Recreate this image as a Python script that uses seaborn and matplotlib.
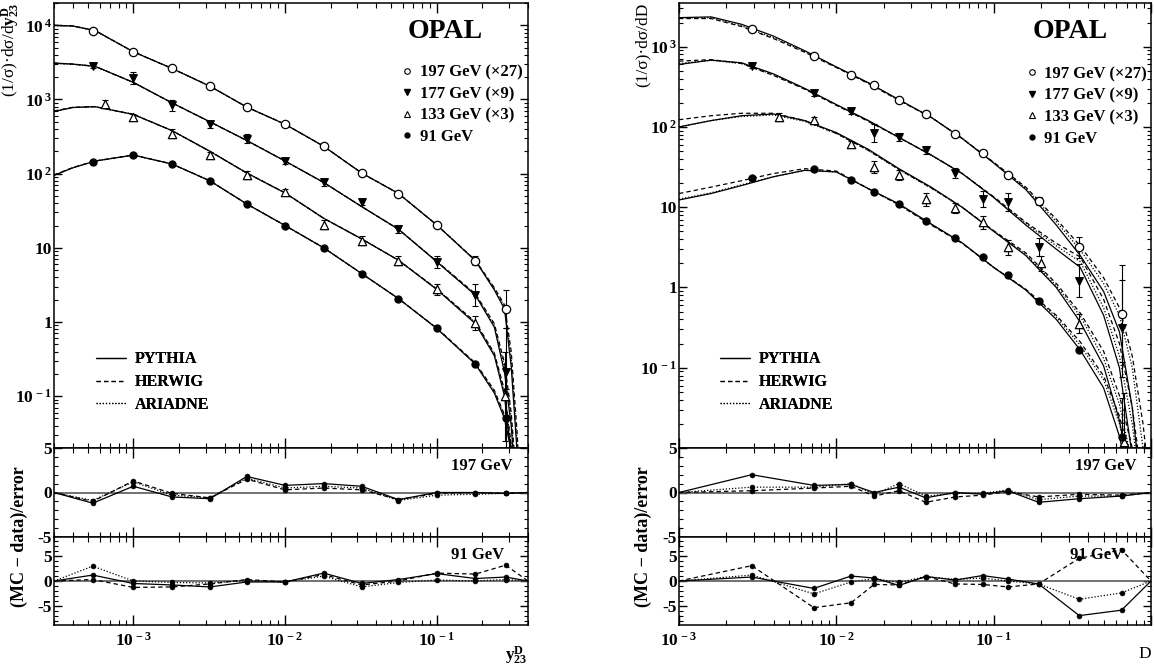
import numpy as np
import matplotlib
matplotlib.use("Agg")
import matplotlib.pyplot as plt
from matplotlib.ticker import FixedLocator, LogLocator, MultipleLocator, NullFormatter, FuncFormatter
from matplotlib.lines import Line2D
import seaborn as sns

# ---------------- data: left panel (y23^D) ----------------
LX = [5.4e-4, 1.0e-3, 1.8e-3, 3.2e-3, 5.6e-3, 1.0e-2, 1.8e-2, 3.2e-2, 5.6e-2, 0.10, 0.18, 0.285]
LX133 = [6.5e-4, 1.0e-3, 1.8e-3, 3.2e-3, 5.6e-3, 1.0e-2, 1.8e-2, 3.2e-2, 5.6e-2, 0.10, 0.18, 0.28]
D197L = [8500, 4400, 2620, 1510, 789, 464, 234, 102, 54, 20.5, 6.7, 1.5]
D177L = [2800, 1950, 830, 464, 296, 148, 76, 41, 18, 6.5, 2.3, 0.21]
D133L = [867, 580, 343, 179, 96, 57, 20.5, 12.5, 6.7, 2.75, 0.96, 0.1]
D91L = [145, 179, 135, 80, 39, 20, 10, 4.5, 2.07, 0.82, 0.27, 0.05]
E197L = [0.03, 0.04, 0.03, 0.03, 0.03, 0.03, 0.04, 0.04, 0.06, 0.08, 0.15, 0.8]
E177L = [0.06, 0.2, 0.18, 0.12, 0.15, 0.1, 0.1, 0.1, 0.12, 0.2, 0.4, 3.0]
E133L = [0.12, 0.1, 0.15, 0.1, 0.12, 0.08, 0.15, 0.15, 0.15, 0.2, 0.25, 3.0]
E91L = [0.02, 0.02, 0.02, 0.02, 0.02, 0.02, 0.02, 0.03, 0.03, 0.04, 0.06, 1.5]

LG = [3.0e-4, 4.0e-4, 5.6e-4, 1.0e-3, 1.8e-3, 3.2e-3, 5.6e-3, 1.0e-2, 1.8e-2, 3.2e-2, 5.6e-2,
      0.10, 0.18, 0.24, 0.28, 0.31, 0.34, 0.36]
L_PY_197 = [10000, 9800, 8500, 4400, 2620, 1510, 790, 464, 234, 102, 54, 20.4, 6.7, 2.7, 1.5, 0.25, 0.016, 0.001]
L_HW_197 = [10000, 9800, 8500, 4400, 2620, 1510, 790, 464, 234, 102, 54, 20.4, 6.8, 2.9, 1.7, 0.4, 0.03, 0.002]
L_AR_197 = [9900, 9750, 8450, 4400, 2620, 1510, 790, 464, 234, 102, 54, 20.4, 6.75, 2.8, 1.6, 0.32, 0.022, 0.0015]
L_PY_177 = [3100, 3000, 2800, 1700, 900, 500, 280, 148, 76, 36, 17.8, 6.5, 2.3, 0.85, 0.21, 0.04, 0.003, 0.0005]
L_HW_177 = [3100, 3000, 2800, 1700, 900, 500, 280, 148, 76, 36, 17.8, 6.6, 2.4, 0.95, 0.28, 0.06, 0.005, 0.0008]
L_AR_177 = [3050, 2980, 2790, 1700, 900, 500, 280, 148, 76, 36, 17.8, 6.55, 2.35, 0.9, 0.25, 0.05, 0.004, 0.0006]
L_PY_133 = [690, 780, 800, 630, 380, 200, 102, 55, 25, 13.2, 6.8, 2.75, 0.95, 0.35, 0.1, 0.016, 0.0016, 0.0003]
L_HW_133 = [700, 785, 800, 630, 380, 200, 102, 55, 25, 13.2, 6.8, 2.8, 1.0, 0.38, 0.12, 0.022, 0.0025, 0.0004]
L_AR_133 = [690, 780, 800, 630, 380, 200, 102, 55, 25, 13.2, 6.8, 2.78, 0.98, 0.37, 0.11, 0.02, 0.002, 0.0003]
L_PY_91 = [95, 120, 148, 178, 135, 80, 39, 20, 10, 4.5, 2.07, 0.82, 0.27, 0.11, 0.05, 0.018, 0.005, 0.001]
L_HW_91 = [96, 121, 148, 178, 135, 80, 39, 20, 10, 4.5, 2.07, 0.83, 0.28, 0.12, 0.056, 0.022, 0.006, 0.0012]
L_AR_91 = [95, 120, 148, 178, 135, 80, 39, 20, 10, 4.5, 2.07, 0.82, 0.275, 0.115, 0.053, 0.02, 0.0055, 0.0011]

RLX = [3.0e-4, 5.4e-4, 1.0e-3, 1.8e-3, 3.2e-3, 5.6e-3, 1.0e-2, 1.8e-2, 3.2e-2, 5.6e-2, 0.10, 0.18, 0.285, 0.40]
R197L_PY = [0, -1.2, 0.7, -0.5, -0.7, 1.8, 0.8, 1.0, 0.7, -0.8, 0.0, 0.0, -0.1, 0]
R197L_HW = [0, -1.0, 1.3, -0.1, -0.6, 1.5, 0.3, 0.5, 0.3, -0.8, -0.1, 0.0, -0.1, 0]
R197L_AR = [0, -0.9, 1.2, -0.3, -0.6, 1.6, 0.5, 0.7, 0.5, -0.9, -0.3, -0.2, -0.1, 0]
R91L_PY = [0, 1.2, -0.5, -0.8, -1.2, -0.2, -0.2, 1.6, -0.5, 0.3, 1.5, 0.5, 0.8, 0]
R91L_HW = [0, 0.3, -1.3, -1.2, -0.6, 0.3, -0.2, 1.3, -0.8, 0.0, 1.6, 1.4, 3.2, 0]
R91L_AR = [0, 3.0, 0.0, -0.3, -0.4, 0.1, -0.2, 1.0, -1.2, -0.3, 0.2, 0.0, 0.3, 0]

# ---------------- data: right panel (D) ----------------
RX = [2.9e-3, 7.2e-3, 0.0124, 0.0174, 0.025, 0.037, 0.057, 0.085, 0.123, 0.193, 0.35, 0.65]
RX133 = [4.3e-3, 7.2e-3, 0.0124, 0.0174, 0.025, 0.037, 0.057, 0.085, 0.123, 0.2, 0.35, 0.67]
D197R = [1680, 770, 447, 335, 216, 146, 82, 47, 25, 11.9, 3.16, 0.47]
D177R = [580, 266, 158, 84, 75, 52, 26.6, 12.6, 11.5, 3.2, 1.22, 0.31]
D133R = [133, 122, 61, 31.6, 25, 12.6, 9.7, 6.5, 3.16, 2.0, 0.355, 0.012]
D91R = [23, 30, 21.7, 15.4, 10.9, 6.7, 4.1, 2.37, 1.41, 0.67, 0.168, 0.0138]
E197R = [0.04, 0.04, 0.04, 0.05, 0.05, 0.05, 0.06, 0.07, 0.08, 0.12, 0.35, 3.0]
E177R = [0.06, 0.08, 0.1, 0.3, 0.12, 0.12, 0.15, 0.25, 0.3, 0.3, 0.6, 3.0]
E133R = [0.12, 0.1, 0.1, 0.2, 0.15, 0.2, 0.15, 0.2, 0.25, 0.25, 0.3, 3.0]
E91R = [0.02, 0.02, 0.02, 0.02, 0.02, 0.02, 0.02, 0.03, 0.03, 0.04, 0.06, 2.0]

RG = [0.001, 0.0016, 0.0025, 0.004, 0.0063, 0.01, 0.016, 0.025, 0.04, 0.063, 0.1, 0.16, 0.25,
      0.355, 0.5, 0.63, 0.76, 0.89, 1.0]
R_PY_197 = [2300, 2350, 1900, 1350, 890, 560, 355, 219, 132, 72, 35.5, 16.6, 6.0, 2.5, 0.89, 0.28, 0.032, 0.0016, 0.0003]
R_HW_197 = [2240, 2240, 1780, 1260, 850, 550, 347, 214, 132, 72, 36.3, 17.8, 7.1, 3.3, 1.32, 0.56, 0.14, 0.02, 0.0025]
R_AR_197 = [2290, 2290, 1820, 1290, 870, 556, 351, 216, 132, 72, 35.9, 17.2, 6.6, 2.95, 1.12, 0.45, 0.1, 0.01, 0.001]
R_PY_177 = [600, 680, 630, 457, 302, 190, 120, 74, 44.7, 26.3, 13.2, 6.0, 3.0, 1.78, 0.45, 0.1, 0.008, 0.0006, 0.0001]
R_HW_177 = [660, 690, 617, 437, 295, 186, 117, 74, 44.7, 26.3, 13.5, 6.5, 3.55, 2.4, 0.71, 0.2, 0.032, 0.0032, 0.0003]
R_AR_177 = [617, 676, 617, 447, 299, 188, 119, 74, 44.7, 26.3, 13.3, 6.3, 3.3, 2.1, 0.56, 0.14, 0.02, 0.0016, 0.00016]
R_PY_133 = [100, 120, 138, 145, 120, 85, 52.5, 30.2, 17.8, 10, 5.0, 2.5, 1.0, 0.37, 0.105, 0.022, 0.0032, 0.0003, 0.00003]
R_HW_133 = [123, 138, 148, 148, 120, 83, 51, 29.5, 17.4, 10, 5.1, 2.7, 1.12, 0.48, 0.16, 0.045, 0.01, 0.0016, 0.00025]
R_AR_133 = [100, 120, 135, 141, 117, 83, 51, 29.5, 17.4, 10, 5.07, 2.57, 1.05, 0.44, 0.13, 0.035, 0.0063, 0.0008, 0.0001]
R_PY_91 = [12.3, 14.8, 18.6, 24, 28.8, 27.5, 17, 11, 6.2, 3.6, 1.78, 0.93, 0.4, 0.166, 0.056, 0.014, 0.0025, 0.0003, 0.00003]
R_HW_91 = [14.8, 17.8, 21.4, 26.3, 30.2, 28.2, 17, 10.7, 6.0, 3.55, 1.78, 0.95, 0.45, 0.21, 0.079, 0.025, 0.0063, 0.001, 0.00016]
R_AR_91 = [12.6, 15.1, 19, 24, 28.8, 27.5, 17, 10.8, 6.1, 3.6, 1.78, 0.94, 0.43, 0.19, 0.071, 0.02, 0.004, 0.0006, 0.0001]

RRX = [1.0e-3, 2.9e-3, 7.2e-3, 0.0124, 0.0174, 0.025, 0.037, 0.057, 0.085, 0.123, 0.193, 0.35, 0.65, 1.0]
R197R_PY = [0, 2.0, 0.8, 0.9, 0.0, 0.6, -0.6, 0.0, -0.2, 0.2, -1.1, -0.7, -0.4, 0]
R197R_HW = [0, 0.2, 0.5, 0.7, -0.4, 0.2, -1.1, -0.5, -0.3, 0.1, -0.5, -0.2, -0.3, 0]
R197R_AR = [0, 0.6, 0.6, 1.0, -0.2, 1.0, -0.4, -0.1, -0.1, 0.3, -0.8, -0.4, -0.4, 0]
R91R_PY = [0, 0.8, -1.5, 1.0, 0.6, -0.9, 0.9, 0.2, 1.1, 0.4, -0.6, -7.0, -5.9, 0]
R91R_HW = [0, 3.1, -5.4, -4.4, -0.7, -0.8, 0.9, -0.6, -0.7, -1.2, -0.6, 4.6, 6.3, 0]
R91R_AR = [0, 1.2, -2.6, -0.2, 0.5, -0.3, 0.9, 0.3, 0.6, 0.0, -0.6, -3.7, -2.4, 0]

ENERGY_LABELS = ["197 GeV (\u00d727)", "177 GeV (\u00d79)", "133 GeV (\u00d73)", "91 GeV"]
MODEL_LABELS = ["PYTHIA", "HERWIG", "ARIADNE"]

# ---------------- style ----------------
sns.set_theme(style="ticks")
plt.rcParams["font.family"] = ["Liberation Serif", "DejaVu Serif"]
plt.rcParams["font.weight"] = "bold"
plt.rcParams["mathtext.fontset"] = "custom"
plt.rcParams["mathtext.rm"] = "Liberation Serif:bold"
plt.rcParams["mathtext.bf"] = "Liberation Serif:bold"
plt.rcParams["mathtext.it"] = "Liberation Serif:italic:bold"
plt.rcParams["mathtext.default"] = "bf"
plt.rcParams["axes.unicode_minus"] = False
for k in ["axes.edgecolor", "xtick.color", "ytick.color", "text.color", "axes.labelcolor"]:
    plt.rcParams[k] = "black"
plt.rcParams["axes.linewidth"] = 1.1

W, H = 1154, 669
fig = plt.figure(figsize=(W / 100, H / 100), dpi=100)


def box(x0, y0, x1, y1):
    return [x0 / W, 1 - y1 / H, (x1 - x0) / W, (y1 - y0) / H]


LS = {"PY": "-", "HW": (0, (3.5, 2.5)), "AR": (0, (1, 1.5))}


def log_label(v, pos):
    e = int(round(np.log10(v)))
    if e == 0:
        return "1"
    if e == 1:
        return "10"
    return r"$10^{\,%d}$" % e


def x_label(v, pos):
    e = int(round(np.log10(v)))
    if e >= 0:
        return ""
    return r"$10^{\,%d}$" % e


def setup_x(ax, xlim, labels):
    ax.set_xscale("log")
    ax.set_xlim(*xlim)
    ax.xaxis.set_major_locator(LogLocator(base=10, numticks=20))
    ax.xaxis.set_minor_locator(LogLocator(base=10, subs=np.arange(2, 10), numticks=40))
    ax.xaxis.set_minor_formatter(NullFormatter())
    if labels:
        ax.xaxis.set_major_formatter(FuncFormatter(x_label))
    else:
        ax.xaxis.set_major_formatter(NullFormatter())
    ax.tick_params(which="both", direction="in", top=True, right=True, labelsize=12.5)
    ax.tick_params(axis="x", which="major", length=7, width=1.0, pad=5)
    ax.tick_params(axis="x", which="minor", length=3.5, width=0.8)
    ax.tick_params(axis="y", which="major", length=6, width=1.0, pad=1.5)
    ax.tick_params(axis="y", which="minor", length=3, width=0.8)
    ax.grid(False)


def draw_main(ax, xlim, ylim, yticks, grid, curves, data):
    setup_x(ax, xlim, False)
    ax.set_yscale("log")
    ax.set_ylim(*ylim)
    ax.yaxis.set_major_locator(FixedLocator(yticks))
    ax.yaxis.set_major_formatter(FuncFormatter(log_label))
    ax.yaxis.set_minor_locator(LogLocator(base=10, subs=np.arange(2, 10), numticks=40))
    ax.yaxis.set_minor_formatter(NullFormatter())
    for vals, key in curves:
        sns.lineplot(x=grid, y=vals, ax=ax, color="black", lw=0.9, linestyle=LS[key],
                     estimator=None, sort=False, legend=False)
    for xs, vs, es, mk, fc, s in data:
        v = np.asarray(vs, float)
        r = np.asarray(es, float)
        ax.errorbar(xs, v, yerr=[v - v / (1 + r), v * r], fmt="none", ecolor="black",
                    elinewidth=0.8, capsize=2.5, capthick=0.8, zorder=4)
        sns.scatterplot(x=xs, y=vs, ax=ax, marker=mk, s=s, color=fc, edgecolor="black",
                        linewidth=0.9, zorder=6, legend=False)


def draw_ratio(ax, xlim, ylim, xs, series, label, lab_x, xlabels):
    setup_x(ax, xlim, xlabels)
    ax.set_ylim(*ylim)
    ax.yaxis.set_major_locator(MultipleLocator(5))
    ax.yaxis.set_minor_locator(MultipleLocator(1))
    ax.axhline(0, color="0.35", lw=1.2, zorder=1)
    for vals, key in series:
        sns.lineplot(x=xs, y=vals, ax=ax, color="black", lw=0.9, linestyle=LS[key],
                     estimator=None, sort=False, legend=False)
        sns.scatterplot(x=xs[1:-1], y=vals[1:-1], ax=ax, s=12, color="black",
                        edgecolor="black", linewidth=0.5, zorder=5, legend=False)
    ax.text(lab_x, 0.80, label, transform=ax.transAxes, ha="right", va="center",
            fontsize=12, weight="bold")


def add_legends(ax, ex, ey, mx, my):
    hs = [Line2D([], [], marker="o", ls="none", mfc="white", mec="black", ms=4, mew=0.8),
          Line2D([], [], marker="v", ls="none", mfc="black", mec="black", ms=4),
          Line2D([], [], marker="^", ls="none", mfc="white", mec="black", ms=4, mew=0.8),
          Line2D([], [], marker="o", ls="none", mfc="black", mec="black", ms=3.5)]
    leg = ax.legend(hs, ENERGY_LABELS, loc="upper left", bbox_to_anchor=(ex, ey),
                    frameon=False, fontsize=12, handlelength=0.6, handletextpad=0.45,
                    labelspacing=0.33, borderpad=0, borderaxespad=0)
    ax.add_artist(leg)
    hm = [Line2D([], [], color="black", lw=0.9, ls=LS[k]) for k in ["PY", "HW", "AR"]]
    leg2 = ax.legend(hm, MODEL_LABELS, loc="upper left", bbox_to_anchor=(mx, my),
                     frameon=False, fontsize=11.5, handlelength=1.9, handletextpad=0.55,
                     labelspacing=0.42, borderpad=0, borderaxespad=0)
    ax.add_artist(leg2)


# ---------------- left ----------------
axL = fig.add_axes(box(54, 3, 528, 448))
draw_main(axL, (3.0e-4, 0.40), (0.02, 2.0e4), [0.1, 1, 10, 100, 1000, 1e4], LG,
          [(L_PY_197, "PY"), (L_HW_197, "HW"), (L_AR_197, "AR"),
           (L_PY_177, "PY"), (L_HW_177, "HW"), (L_AR_177, "AR"),
           (L_PY_133, "PY"), (L_HW_133, "HW"), (L_AR_133, "AR"),
           (L_PY_91, "PY"), (L_HW_91, "HW"), (L_AR_91, "AR")],
          [(LX, D197L, E197L, "o", "white", 36), (LX, D177L, E177L, "v", "black", 30),
           (LX133, D133L, E133L, "^", "white", 36), (LX, D91L, E91L, "o", "black", 26)])
axL.set_ylabel(r"(1/σ)·dσ/d$y^{D}_{23}$", loc="top", fontsize=12.5)
axL.yaxis.set_label_coords(-0.068, 1.0)
axL.text(0.825, 0.937, "OPAL", transform=axL.transAxes, ha="center", va="center",
         fontsize=20, weight="bold")
add_legends(axL, 0.735, 0.862, 0.088, 0.217)

axL1 = fig.add_axes(box(54, 448, 528, 537))
draw_ratio(axL1, (3.0e-4, 0.40), (-5, 5), RLX,
           [(R197L_PY, "PY"), (R197L_HW, "HW"), (R197L_AR, "AR")], "197 GeV", 0.968, False)
axL2 = fig.add_axes(box(54, 537, 528, 625))
draw_ratio(axL2, (3.0e-4, 0.40), (-8.9, 8.9), RLX,
           [(R91L_PY, "PY"), (R91L_HW, "HW"), (R91L_AR, "AR")], "91 GeV", 0.95, True)
axL2.set_xlabel(r"$y^{D}_{23}$", loc="right", fontsize=12.5)
axL2.xaxis.set_label_coords(1.0, -0.22)

# ---------------- right ----------------
axR = fig.add_axes(box(679, 3, 1151, 448))
draw_main(axR, (1.0e-3, 1.0), (0.01, 3.5e3), [0.1, 1, 10, 100, 1000], RG,
          [(R_PY_197, "PY"), (R_HW_197, "HW"), (R_AR_197, "AR"),
           (R_PY_177, "PY"), (R_HW_177, "HW"), (R_AR_177, "AR"),
           (R_PY_133, "PY"), (R_HW_133, "HW"), (R_AR_133, "AR"),
           (R_PY_91, "PY"), (R_HW_91, "HW"), (R_AR_91, "AR")],
          [(RX, D197R, E197R, "o", "white", 36), (RX, D177R, E177R, "v", "black", 30),
           (RX133, D133R, E133R, "^", "white", 36), (RX, D91R, E91R, "o", "black", 26)])
axR.set_ylabel("(1/σ)·dσ/dD", loc="top", fontsize=12.5)
axR.yaxis.set_label_coords(-0.06, 1.0)
axR.text(0.828, 0.935, "OPAL", transform=axR.transAxes, ha="center", va="center",
         fontsize=20, weight="bold")
add_legends(axR, 0.737, 0.858, 0.087, 0.217)

axR1 = fig.add_axes(box(679, 448, 1151, 537))
draw_ratio(axR1, (1.0e-3, 1.0), (-5, 5), RRX,
           [(R197R_PY, "PY"), (R197R_HW, "HW"), (R197R_AR, "AR")], "197 GeV", 0.97, False)
axR2 = fig.add_axes(box(679, 537, 1151, 625))
draw_ratio(axR2, (1.0e-3, 1.0), (-8.9, 8.9), RRX,
           [(R91R_PY, "PY"), (R91R_HW, "HW"), (R91R_AR, "AR")], "91 GeV", 0.94, True)
axR2.set_xlabel("D", loc="right", fontsize=12.5)
axR2.xaxis.set_label_coords(1.0, -0.24)

fig.text(28 / W, 1 - 537 / H, "(MC \u2212 data)/error", rotation=90, ha="right", va="center",
         fontsize=13, weight="bold")
fig.text(652 / W, 1 - 537 / H, "(MC \u2212 data)/error", rotation=90, ha="right", va="center",
         fontsize=13, weight="bold")

fig.savefig("out.png", dpi=100)
